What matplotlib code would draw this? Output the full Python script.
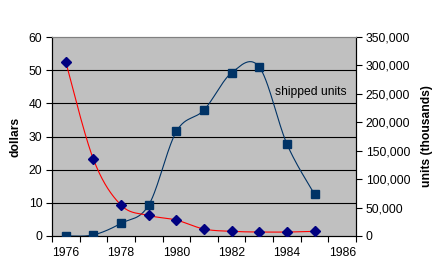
import numpy as np
import matplotlib
matplotlib.use("Agg")
import matplotlib.pyplot as plt
from matplotlib.ticker import FuncFormatter

years = [1976, 1977, 1978, 1979, 1980, 1981, 1982, 1983, 1984, 1985]
dollars = [52.4, 23.1, 9.3, 6.2, 4.8, 2.1, 1.4, 1.2, 1.2, 1.4]
units = [0, 2000, 22300, 54500, 183800, 221600, 287200, 297200, 161800, 73300]
xtick_labels = [1976, 1978, 1980, 1982, 1984, 1986]
series_label = "shipped units"

plt.rcParams['font.family'] = ['Liberation Sans', 'DejaVu Sans']
FS = 8.7


def smooth(xs, ys, n=30):
    xs = np.asarray(xs, float)
    ys = np.asarray(ys, float)
    P = np.column_stack([xs, ys])
    out = []
    for i in range(len(P) - 1):
        p0 = P[i - 1] if i > 0 else P[i]
        p1 = P[i]
        p2 = P[i + 1]
        p3 = P[i + 2] if i + 2 < len(P) else P[i + 1]
        c1 = p1 + (p2 - p0) / 6.0
        c2 = p2 - (p3 - p1) / 6.0
        t = np.linspace(0, 1, n)[:, None]
        seg = ((1 - t) ** 3) * p1 + 3 * ((1 - t) ** 2) * t * c1 + 3 * (1 - t) * t ** 2 * c2 + t ** 3 * p2
        out.append(seg if i == 0 else seg[1:])
    pts = np.vstack(out)
    return pts[:, 0], pts[:, 1]


fig = plt.figure(figsize=(4.39, 2.79), dpi=100)
ax = fig.add_axes([52 / 439, 1 - 236 / 279, 304 / 439, 199 / 279])
ax2 = ax.twinx()

ax.set_facecolor('#C0C0C0')

xmin, xmax = 1975.5, 1986.5
ax.set_xlim(xmin, xmax)
ax.set_ylim(0, 60)
ax2.set_ylim(0, 350000)

for v in [10, 20, 30, 40, 50]:
    ax.axhline(v, color='black', lw=0.8, zorder=1)

# units on secondary axis
ux, uy = smooth(years, units)
ax2.plot(ux, uy, color='#003366', lw=0.8, zorder=2)
ax2.plot(years, units, ls='none', marker='s', ms=6.0, color='#003366', zorder=3)

# dollars on primary scale, drawn in ax2 (scaled) so it sits above the units series
scale = 350000 / 60.0
dx, dy = smooth(years, dollars)
ax2.plot(dx, np.asarray(dy) * scale, color='#FF0000', lw=0.8, zorder=4)
ax2.plot(years, np.asarray(dollars) * scale, ls='none', marker='D', ms=4.8, color='#000080', zorder=5)

ax.text(1986.15, 43.4, series_label, ha='right', va='center', fontsize=FS, zorder=6)

# x ticks
bounds = np.arange(1975.5, 1987.0, 1.0)
ax.set_xticks(bounds)
ax.set_xticklabels([])
ax.set_xticks(xtick_labels, minor=True)
ax.set_xticklabels([str(v) for v in xtick_labels], minor=True, fontsize=FS)
ax.tick_params(axis='x', which='major', length=4, width=0.8, direction='out', color='black')
ax.tick_params(axis='x', which='minor', length=0, pad=8)

ax.set_yticks(range(0, 61, 10))
ax.tick_params(axis='y', length=4, width=0.8, direction='out', labelsize=FS, pad=3)
ax2.set_yticks(range(0, 350001, 50000))
ax2.yaxis.set_major_formatter(FuncFormatter(lambda v, p: f"{int(v):,}"))
ax2.tick_params(axis='y', length=4, width=0.8, direction='out', labelsize=FS, pad=3)

for a in (ax, ax2):
    for s in ['left', 'right', 'bottom']:
        a.spines[s].set_color('black')
        a.spines[s].set_linewidth(0.8)
    a.spines['top'].set_color('#808080')
    a.spines['top'].set_linewidth(0.8)

ax.set_ylabel('dollars', fontsize=FS, fontweight='bold')
ax.yaxis.set_label_coords(-0.1, 0.5)
ax2.set_ylabel('units (thousands)', fontsize=FS, fontweight='bold', rotation=90)
ax2.yaxis.set_label_coords(1.215, 0.5)

fig.savefig('out.png', dpi=100)
